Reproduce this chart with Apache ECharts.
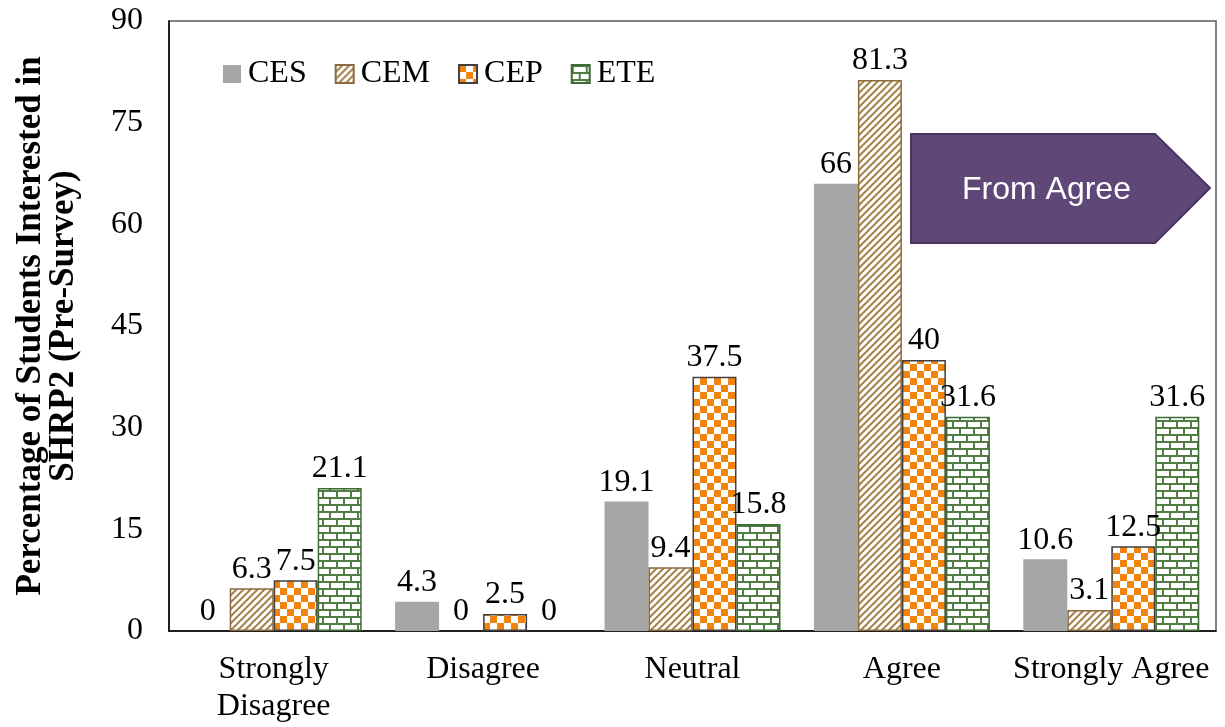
<!DOCTYPE html>
<html>
<head>
<meta charset="utf-8">
<script src="https://cdn.jsdelivr.net/npm/echarts@6/dist/echarts.min.js"></script>
<style>
  html, body { margin: 0; padding: 0; background: #fff; }
  #chart { width: 1225px; height: 727px; }
</style>
</head>
<body>
<div id="chart"></div>
<script>
const categories = ['Strongly\nDisagree', 'Disagree', 'Neutral', 'Agree', 'Strongly Agree'];
const cesValues = [0, 4.3, 19.1, 66, 10.6];
const cemValues = [6.3, 0, 9.4, 81.3, 3.1];
const cepValues = [7.5, 2.5, 37.5, 40, 12.5];
const eteValues = [21.1, 0, 15.8, 31.6, 31.6];
const yTicks = [0, 15, 30, 45, 60, 75, 90];

// pattern fills
function makeCanvas(w, h, draw) {
    const c = document.createElement('canvas');
    c.width = w; c.height = h;
    const ctx = c.getContext('2d');
    ctx.fillStyle = '#fff';
    ctx.fillRect(0, 0, w, h);
    draw(ctx);
    return c;
}
const stripes = makeCanvas(7, 7, function(ctx) {
    ctx.strokeStyle = '#a5834c';
    ctx.lineWidth = 2;
    ctx.beginPath();
    ctx.moveTo(-1, 8); ctx.lineTo(8, -1);
    ctx.moveTo(-4.5, 4.5); ctx.lineTo(4.5, -4.5);
    ctx.moveTo(2.5, 11.5); ctx.lineTo(11.5, 2.5);
    ctx.stroke();
});
const checker = makeCanvas(14, 14, function(ctx) {
    ctx.fillStyle = '#f2840e';
    ctx.fillRect(0, 0, 7, 7);
    ctx.fillRect(7, 7, 7, 7);
});
const bricks = makeCanvas(14, 14, function(ctx) {
    ctx.fillStyle = '#4f7d43';
    ctx.fillRect(0, 0, 14, 2);
    ctx.fillRect(0, 7, 14, 2);
    ctx.fillRect(0, 0, 2, 7);
    ctx.fillRect(7, 7, 2, 7);
});

const serif = '"Liberation Serif", "Times New Roman", serif';
const labelStyle = {
    show: true, position: 'top', distance: 3,
    fontFamily: serif, fontSize: 32, color: '#000'
};

function barSeries(name, values, itemStyle) {
    // zero-height bars get no outline
    const data = values.map(function(v) {
        return v === 0 ? { value: v, itemStyle: { borderWidth: 0 } } : v;
    });
    return {
        name: name, type: 'bar', data: data,
        barWidth: 44, barGap: '0%',
        itemStyle: itemStyle,
        label: labelStyle
    };
}

const chart = echarts.init(document.getElementById('chart'));
chart.setOption({
    animation: false,
    grid: {
        left: 169, right: 9, top: 21, bottom: 96,
        outerBoundsMode: 'none', containLabel: false,
        show: true, borderColor: '#595959', borderWidth: 1.5
    },
    legend: {
        left: 218, top: 53, itemWidth: 18, itemHeight: 18, itemGap: 28,
        icon: 'rect',
        textStyle: { fontFamily: serif, fontSize: 32, color: '#000', padding: [0, 0, 0, 2] },
        data: ['CES', 'CEM', 'CEP', 'ETE']
    },
    xAxis: {
        type: 'category', data: categories,
        axisLine: { lineStyle: { color: '#000', width: 1.5 } },
        axisTick: { show: false },
        axisLabel: {
            interval: 0,
            fontFamily: serif, fontSize: 32, color: '#000',
            margin: 20, lineHeight: 37
        }
    },
    yAxis: {
        type: 'value', min: yTicks[0], max: yTicks[yTicks.length - 1], interval: 15,
        axisLine: { show: true, lineStyle: { color: '#000', width: 1.5 } },
        axisTick: { show: false },
        splitLine: { show: false },
        axisLabel: { fontFamily: serif, fontSize: 32, color: '#000', margin: 26 },
        name: 'Percentage of Students Interested in\nSHRP2 (Pre-Survey)',
        nameLocation: 'middle', nameGap: 89, nameRotate: 90,
        nameTextStyle: {
            fontFamily: serif, fontSize: 35, fontWeight: 'bold', color: '#000', lineHeight: 33
        }
    },
    graphic: [{
        type: 'polygon',
        shape: { points: [[911, 134], [1155, 134], [1210, 188], [1155, 243], [911, 243]] },
        style: { fill: '#5f4878', stroke: '#4a3562', lineWidth: 2 }
    }, {
        type: 'text', x: 962, y: 190,
        style: {
            text: 'From Agree', fill: '#fff',
            font: '32px "Liberation Sans", Arial, sans-serif',
            textVerticalAlign: 'middle'
        }
    }],
    series: [
        barSeries('CES', cesValues, { color: '#a6a6a6' }),
        barSeries('CEM', cemValues, {
            color: { image: stripes, repeat: 'repeat' },
            borderColor: '#8b6b3d', borderWidth: 1.5
        }),
        barSeries('CEP', cepValues, {
            color: { image: checker, repeat: 'repeat' },
            borderColor: '#404040', borderWidth: 1.5
        }),
        barSeries('ETE', eteValues, {
            color: { image: bricks, repeat: 'repeat' },
            borderColor: '#3e6b33', borderWidth: 1.5
        })
    ]
});
</script>
</body>
</html>
